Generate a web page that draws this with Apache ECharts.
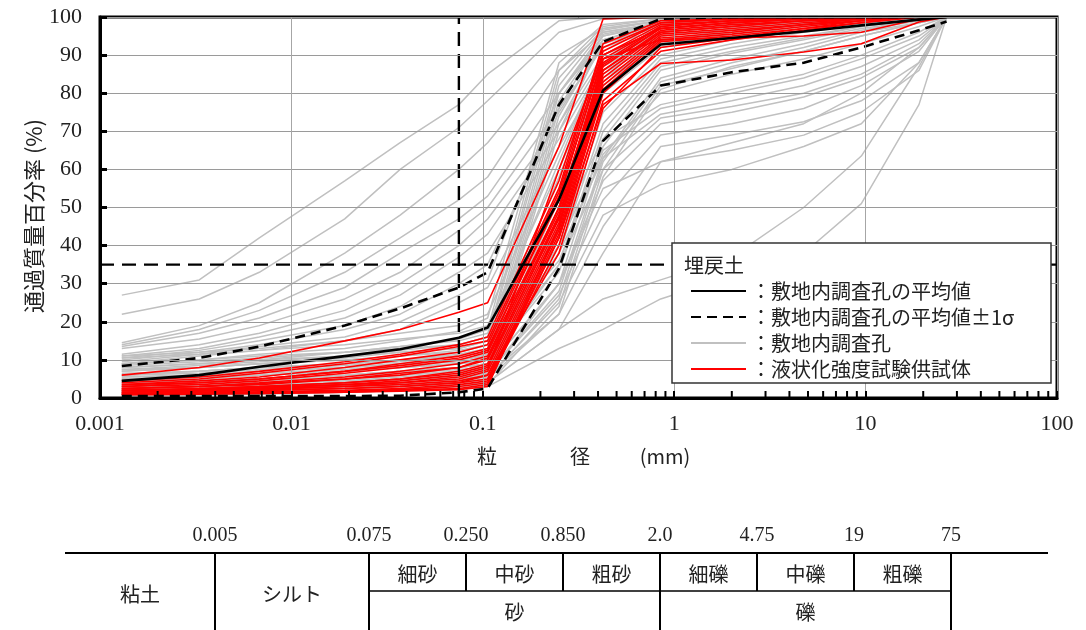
<!DOCTYPE html>
<html><head><meta charset="utf-8">
<script src="https://cdn.jsdelivr.net/npm/echarts@6/dist/echarts.min.js"></script>
<style>html,body{margin:0;padding:0;background:#fff}#c{width:1086px;height:630px}</style>
</head><body><div id="c"></div>
<script>
// particle sizes (mm) at which each curve is sampled
const SIZES = [0.0013, 0.0033, 0.0068, 0.019, 0.037, 0.075, 0.106, 0.25, 0.425, 0.85, 2, 4.75, 9.5, 19, 26.5];

// mean curve and mean ±1σ
const MEAN       = [4.5, 6.0, 8.2, 11, 12.8, 15.8, 18.5, 52, 80.7, 92.8, 94.5, 96.2, 97.8, 99.3, 100];
const MEAN_PLUS  = [8.4, 10.5, 13.5, 19, 23.5, 29, 33, 77, 93.5, 99.5, 100, 100, 100, 100, 100];
const MEAN_MINUS = [0.5, 0.5, 0.5, 0.5, 0.6, 1.5, 2.5, 34, 67.5, 82, 85.5, 88, 92, 96.5, 98.8];

// boreholes on site (gray)
const BOREHOLES = [
  [27, 31, 42, 57, 67, 77, 85, 99, 100, 100, 100, 100, 100, 100, 100],
  [22, 26, 33, 47, 60, 71, 78, 96, 99.5, 100, 100, 100, 100, 100, 100],
  [14.5, 19, 25, 38, 48, 60, 67, 90, 97, 99, 99.5, 100, 100, 100, 100],
  [14, 18, 23, 33, 42, 52, 58, 86, 96, 98.5, 99, 99.5, 100, 100, 100],
  [13.5, 17, 21, 29, 38, 47, 53, 80, 94, 98, 99, 99.5, 100, 100, 100],
  [13, 15.5, 19, 26, 33, 44, 50, 76, 92, 97, 98.5, 99, 100, 100, 100],
  [11.5, 14, 17, 23, 30, 40, 47, 72, 90, 96, 98, 99, 99.5, 100, 100],
  [11, 13, 16, 21, 27, 37, 43, 70, 89, 96, 97.5, 98.5, 99.5, 100, 100],
  [10.5, 12.5, 15, 19, 24, 33, 38, 68, 88, 95, 97, 98.5, 99.5, 100, 100],
  [10, 12, 14, 18, 22, 30, 35, 75, 93, 98, 99, 99.5, 100, 100, 100],
  [9.5, 11.5, 13.5, 16, 20, 27, 31, 80, 95, 98.5, 99, 99.5, 100, 100, 100],
  [9, 11, 12.5, 15, 18, 25, 29, 66, 86, 93, 96, 98, 99, 100, 100],
  [9, 10, 11.5, 13, 15, 17.5, 21, 88, 98, 99.5, 100, 100, 100, 100, 100],
  [8, 9, 10, 12, 13.5, 15.5, 18, 86, 97.5, 99.5, 100, 100, 100, 100, 100],
  [7.5, 8.5, 9.5, 11, 12.5, 14, 16, 84, 97, 99, 99.5, 100, 100, 100, 100],
  [7, 8, 9, 10.5, 12, 13, 15, 82, 96.5, 99, 99.5, 100, 100, 100, 100],
  [6, 7, 8, 9, 10, 11.5, 13, 80, 96, 98.5, 99.5, 100, 100, 100, 100],
  [5.5, 6, 7, 8, 9, 10, 11.5, 78, 95, 98, 99, 99.5, 100, 100, 100],
  [4.5, 5, 6, 7, 8, 9, 10, 76, 95.5, 98.5, 99.5, 100, 100, 100, 100],
  [4, 4.5, 5, 6, 7, 8, 9, 74, 94, 98, 99, 99.5, 100, 100, 100],
  [3, 3.5, 4, 5, 6, 7, 8, 72, 93, 97.5, 99, 99.5, 100, 100, 100],
  [2.5, 3, 3.5, 4, 5, 6, 7, 70, 94, 98.5, 99.5, 100, 100, 100, 100],
  [8.5, 9.5, 10.5, 12, 13.5, 15, 17, 62, 90, 97, 98.5, 99.5, 100, 100, 100],
  [7, 8, 9, 10, 11, 12.5, 14, 58, 88, 96, 98, 99, 99.5, 100, 100],
  [6, 6.5, 7.5, 8.5, 9.5, 11, 12, 55, 86, 95, 97, 98.5, 99.5, 100, 100],
  [5, 5.5, 6.5, 7.5, 8.5, 9.5, 10.5, 52, 85, 94, 96.5, 98, 99, 100, 100],
  [4, 4.5, 5, 6, 7, 8, 9, 50, 84, 93, 95.5, 97.5, 99, 100, 100],
  [3, 3.5, 4, 4.5, 5.5, 6.5, 7.5, 48, 83, 94, 96, 98, 99.5, 100, 100],
  [2, 2.5, 3, 3.5, 4, 5, 6, 46, 82, 93.5, 96, 98, 99.5, 100, 100],
  [10.5, 11.5, 12.5, 14, 15.5, 17, 19, 60, 87, 95, 97, 98.5, 99.5, 100, 100],
  [11, 12, 13, 15, 17, 19, 22, 64, 89, 96, 97.5, 98.5, 99.5, 100, 100],
  [1.5, 2, 2.5, 3, 3.5, 4, 5, 44, 80, 92, 95, 97.5, 99, 100, 100],
  [7.5, 8, 9, 10, 11, 12, 14, 40, 75, 90, 94, 96.5, 98.5, 100, 100],
  [6.5, 7, 8, 9, 10, 11, 12, 38, 72, 89, 93, 96, 98, 99.5, 100],
  [5.5, 6, 7, 8, 9, 10, 11, 35, 70, 88, 92, 95, 97.5, 99.5, 100],
  [4.5, 5, 6, 7, 8, 9, 10, 33, 68, 87, 91, 94.5, 97.5, 99.5, 100],
  [3.5, 4, 4.5, 5.5, 6.5, 7.5, 8, 30, 66, 86, 90.5, 94, 97, 99, 100],
  [2.5, 3, 3.5, 4, 5, 5.5, 6.5, 28, 63, 84, 89, 93, 96.5, 99, 100],
  [2, 2.2, 2.5, 3, 3.5, 4, 5, 26, 62, 83, 88, 92, 96, 98.5, 100],
  [1, 1.2, 1.5, 2, 2.5, 3, 3.5, 24, 60, 82, 86.5, 91, 95, 98.5, 100],
  [8, 9, 10, 11, 12, 13, 15, 36, 64, 80, 85, 89, 93, 97.5, 100],
  [3, 3.5, 4, 4.5, 5, 5.5, 6, 22, 58, 81, 87, 91, 95, 98.5, 100],
  [9, 10, 11, 12, 13, 14, 16, 45, 68, 77, 81, 85, 90, 96, 100],
  [6, 7, 8, 9, 10, 11, 12, 40, 65, 76, 80, 84, 89, 95, 100],
  [5, 5.5, 6, 7, 8, 9, 10, 38, 63, 74.5, 78, 82, 87, 94, 100],
  [4, 4.5, 5, 6, 7, 8, 9, 35, 60, 73.5, 76.5, 80, 85, 93, 100],
  [3, 3.5, 4, 5, 6, 7, 8, 30, 57, 72, 75, 79, 84, 92, 100],
  [2, 2.5, 3, 3.5, 4.5, 5.5, 6.5, 27, 52, 69, 72, 76, 82, 91, 100],
  [1.5, 2, 2.5, 3, 3.5, 4, 5, 22, 45, 66, 69, 72.5, 78, 88, 100],
  [1, 1.5, 2, 2.5, 3, 3.5, 4, 18, 38, 62, 65, 69, 75, 86, 100],
  [1, 1.2, 1.5, 2, 2.5, 3, 4, 18, 26, 31, 37, 50, 63.5, 87, 100],
  [0.5, 0.8, 1, 1.5, 2, 2.5, 3, 13, 18, 26, 32, 38, 51, 77, 100],
  [1.5, 2, 2.5, 3, 3.5, 4.5, 5.5, 25, 48, 56, 60, 66, 72, 88, 100],
  [2, 2.5, 3, 3.5, 4, 5, 6, 30, 55, 62, 67, 72, 80, 92, 100]
];

// liquefaction test specimens (red)
const SPECIMENS = [
  [6, 8, 10.5, 15, 18, 22.5, 25, 66, 99.5, 100, 100, 100, 100, 100, 100],
  [4, 5, 6.5, 9, 11, 13.5, 15, 55, 93, 99, 99.5, 100, 100, 100, 100],
  [3.5, 4.5, 5.5, 8, 10, 12, 14, 54, 91, 98.5, 99.5, 100, 100, 100, 100],
  [3, 4, 5, 7, 9, 11, 13, 52, 90, 98, 99, 99.5, 100, 100, 100],
  [3, 3.5, 4.5, 6.5, 8, 10, 12, 50, 88, 97.5, 99, 99.5, 100, 100, 100],
  [2.5, 3, 4, 5.5, 7, 9, 11, 49, 87, 97, 98.5, 99.5, 100, 100, 100],
  [2.5, 3, 3.5, 5, 6, 8, 10, 48, 86, 96.5, 98, 99, 100, 100, 100],
  [2, 2.5, 3, 4, 5, 7, 9, 47, 85, 96, 97.5, 99, 99.5, 100, 100],
  [2, 2.2, 2.8, 3.5, 4.5, 6, 8, 46, 84, 95.5, 97, 98.5, 99.5, 100, 100],
  [1.5, 2, 2.5, 3, 4, 5, 7, 45, 83, 95, 96.5, 98, 99.5, 100, 100],
  [1.5, 1.8, 2.2, 3, 3.5, 4.5, 6, 44, 82, 94.5, 96, 98, 99, 100, 100],
  [1.2, 1.5, 2, 2.5, 3, 4, 5, 43, 81, 94, 95.5, 97.5, 99, 100, 100],
  [1, 1.3, 1.6, 2, 2.5, 3.5, 4.5, 42, 80, 93.5, 95, 97, 98.5, 100, 100],
  [1, 1.2, 1.4, 1.8, 2.2, 3, 4, 40, 78, 91, 94, 96.5, 98.5, 100, 100],
  [1, 1.1, 1.2, 1.5, 2, 2.5, 3.5, 42, 77, 87.8, 88.7, 90.8, 93, 98.7, 100],
  [0.8, 1, 1.2, 1.5, 1.8, 2.2, 3, 45, 89, 94, 94.5, 95, 96, 99.5, 100],
  [4.5, 5.5, 7, 9.5, 11.5, 14, 16, 57, 92, 98.5, 99.5, 100, 100, 100, 100],
  [3.5, 4, 5, 7, 8.5, 10.5, 12.5, 53, 89, 97.5, 99, 100, 100, 100, 100],
  [2.5, 3, 3.8, 5, 6.5, 8, 10.5, 50, 87.5, 97, 98.5, 99.5, 100, 100, 100],
  [2, 2.5, 3, 4, 5, 6.5, 8.5, 47.5, 86, 96, 97.5, 99, 99.5, 100, 100],
  [1.5, 2, 2.5, 3.5, 4, 5.5, 7.5, 60, 90, 97, 98.5, 99.5, 100, 100, 100],
  [1.2, 1.5, 2, 2.5, 3, 4, 6, 38, 76, 92, 94.5, 97, 99, 100, 100]
];

// reference lines: fines content 35 % and 0.075 mm
const REF_PERCENT = 35;
const REF_SIZE = 0.075;

// axes
const X_MIN = 0.001, X_MAX = 100;
const Y_MIN = 0, Y_MAX = 100, Y_STEP = 10;
const MINOR_MULT = [2, 3, 4, 5, 6, 7, 8, 9];
const DECADES = [0.001, 0.01, 0.1, 1, 10];

// texts
const NAME_MEAN = '敷地内調査孔の平均値';
const NAME_SIGMA = '敷地内調査孔の平均値±1σ';
const NAME_HOLE = '敷地内調査孔';
const NAME_SPEC = '液状化強度試験供試体';
const LEGEND_TITLE = '埋戻土';
const Y_TITLE = '通過質量百分率 (%)';
const X_TITLE_PARTS = ['粒', '径', '(mm)'];

// soil classification table
const TABLE_BOUNDS = ['0.005', '0.075', '0.250', '0.850', '2.0', '4.75', '19', '75'];
const TABLE_SUB = ['細砂', '中砂', '粗砂', '細礫', '中礫', '粗礫'];
const TABLE_MAIN_LEFT = ['粘土', 'シルト'];
const TABLE_MAIN_LOWER = ['砂', '礫'];

// ---------- layout ----------
const JP = "'Noto Sans CJK JP', sans-serif";
const NUM = "'Liberation Serif', 'DejaVu Serif', serif";
const TX = [215, 369, 466, 563, 660, 757, 854, 951];
const T_LEFT = 65, T_RIGHT = 1048, T_TOP = 553, T_MID = 591, T_BOT = 632, T_LABEL_Y = 536;
const X_TITLE_POS = [487, 580, 665];

function toPairs(row) { return SIZES.map((s, i) => [s, row[i]]); }

const series = [];
BOREHOLES.forEach(r => series.push({
  type: 'line', name: NAME_HOLE, data: toPairs(r), symbol: 'none', silent: true, z: 2,
  lineStyle: { color: '#c0c0c0', width: 1.5 }, itemStyle: { color: '#c0c0c0' }
}));
SPECIMENS.forEach(r => series.push({
  type: 'line', name: NAME_SPEC, data: toPairs(r), symbol: 'none', silent: true, z: 3,
  lineStyle: { color: '#ff0000', width: 1.6 }, itemStyle: { color: '#ff0000' }
}));
series.push({
  type: 'line', name: NAME_MEAN, data: toPairs(MEAN), symbol: 'none', z: 5,
  lineStyle: { color: '#000', width: 2.6 }, itemStyle: { color: '#000' }
});
series.push({
  type: 'line', name: NAME_SIGMA, data: toPairs(MEAN_PLUS), symbol: 'none', z: 5,
  lineStyle: { color: '#000', width: 2.6, type: [10, 6] }, itemStyle: { color: '#000' }
});
series.push({
  type: 'line', name: NAME_SIGMA, data: toPairs(MEAN_MINUS), symbol: 'none', z: 5,
  lineStyle: { color: '#000', width: 2.6, type: [10, 6] }, itemStyle: { color: '#000' }
});
series.push({
  type: 'line', name: 'ref-h', data: [[X_MIN, REF_PERCENT], [X_MAX, REF_PERCENT]], symbol: 'none', z: 4, silent: true,
  lineStyle: { color: '#000', width: 2.4, type: [14, 8] }
});
series.push({
  type: 'line', name: 'ref-v', data: [[REF_SIZE, Y_MIN], [REF_SIZE, Y_MAX]], symbol: 'none', z: 4, silent: true,
  lineStyle: { color: '#000', width: 2.4, type: [14, 8] }
});
const minorTicks = [];
DECADES.forEach(d => MINOR_MULT.forEach(m => minorTicks.push([d * m, Y_MIN])));
series.push({
  type: 'custom', name: 'minor', data: minorTicks, silent: true, z: 8, clip: false,
  renderItem: (p, api) => {
    const c = api.coord([api.value(0), Y_MIN]);
    return { type: 'line', shape: { x1: c[0], y1: c[1], x2: c[0], y2: c[1] - 7 }, style: { stroke: '#000', lineWidth: 2 } };
  }
});

const graphic = [];
// y axis title
graphic.push({ type: 'text', x: 34, y: 216, rotation: Math.PI / 2, z: 10,
  style: { text: Y_TITLE, font: '22px ' + JP, fill: '#222', align: 'center', verticalAlign: 'middle' } });
// x axis title
X_TITLE_PARTS.forEach((s, i) => graphic.push({ type: 'text', x: X_TITLE_POS[i], y: 456, z: 10,
  style: { text: s, font: '20px ' + JP, fill: '#222', align: 'center', verticalAlign: 'middle' } }));
// legend box + title
graphic.push({ type: 'rect', shape: { x: 672, y: 243, width: 379, height: 140 }, z: 20,
  style: { fill: '#fff', stroke: '#333', lineWidth: 1.5 } });
graphic.push({ type: 'text', x: 684, y: 265, z: 21,
  style: { text: LEGEND_TITLE, font: '20px ' + JP, fill: '#222', verticalAlign: 'middle' } });
// table lines
function hline(x1, x2, y, w) { graphic.push({ type: 'line', shape: { x1, y1: y, x2, y2: y }, style: { stroke: '#000', lineWidth: w } }); }
function vline(x, y1, y2, w) { graphic.push({ type: 'line', shape: { x1: x, y1, x2: x, y2 }, style: { stroke: '#000', lineWidth: w } }); }
hline(T_LEFT, T_RIGHT, T_TOP, 2.2);
hline(TX[1], TX[7], T_MID, 1.6);
[0, 1, 4, 7].forEach(i => vline(TX[i], T_TOP, T_BOT, 2));
[2, 3, 5, 6].forEach(i => vline(TX[i], T_TOP, T_MID, 2));
function txt(s, x, y, font) {
  graphic.push({ type: 'text', x, y, style: { text: s, font, fill: '#222', align: 'center', verticalAlign: 'middle' } });
}
TABLE_BOUNDS.forEach((s, i) => txt(s, TX[i], T_LABEL_Y, '20px ' + NUM));
TABLE_SUB.forEach((s, i) => txt(s, (TX[i + 1] + TX[i + 2]) / 2, 574, '20px ' + JP));
txt(TABLE_MAIN_LEFT[0], (T_LEFT + TX[0]) / 2, 594, '20px ' + JP);
txt(TABLE_MAIN_LEFT[1], (TX[0] + TX[1]) / 2, 594, '20px ' + JP);
txt(TABLE_MAIN_LOWER[0], (TX[1] + TX[4]) / 2, 612, '20px ' + JP);
txt(TABLE_MAIN_LOWER[1], (TX[4] + TX[7]) / 2, 612, '20px ' + JP);

const chart = echarts.init(document.getElementById('c'), null, { renderer: 'canvas' });
chart.setOption({
  animation: false,
  backgroundColor: '#fff',
  grid: { left: 100, top: 17, right: 29, bottom: 232, show: true, borderColor: '#000', borderWidth: 3, z: 7 },
  xAxis: {
    type: 'log', logBase: 10, min: X_MIN, max: X_MAX,
    axisLine: { lineStyle: { color: '#000', width: 3 } },
    axisTick: { inside: true, length: 7, lineStyle: { color: '#000', width: 2 } },
    axisLabel: { fontFamily: NUM, fontSize: 22, color: '#222', margin: 15,
      formatter: v => String(Number(Number(v).toPrecision(1))) },
    splitLine: { show: true, lineStyle: { color: '#a6a6a6', width: 1 } },
    z: 7
  },
  yAxis: {
    type: 'value', min: Y_MIN, max: Y_MAX, interval: Y_STEP,
    axisLine: { show: true, lineStyle: { color: '#000', width: 3 } },
    axisTick: { show: true, inside: true, length: 7, lineStyle: { color: '#000', width: 3 } },
    axisLabel: { fontFamily: NUM, fontSize: 22, color: '#222', margin: 18 },
    splitLine: { show: true, lineStyle: { color: '#9a9a9a', width: 1 } },
    z: 7
  },
  legend: {
    data: [NAME_MEAN, NAME_SIGMA, NAME_HOLE, NAME_SPEC],
    orient: 'vertical', left: 672, top: 243, padding: [38, 18, 4, 18],
    itemWidth: 55, itemHeight: 14, itemGap: 6, z: 30, selectedMode: false,
    itemStyle: { opacity: 0 },
    formatter: n => '：' + n,
    textStyle: { fontFamily: JP, fontSize: 20, color: '#222', lineHeight: 20 }
  },
  graphic: { elements: graphic },
  series
});
</script></body></html>
